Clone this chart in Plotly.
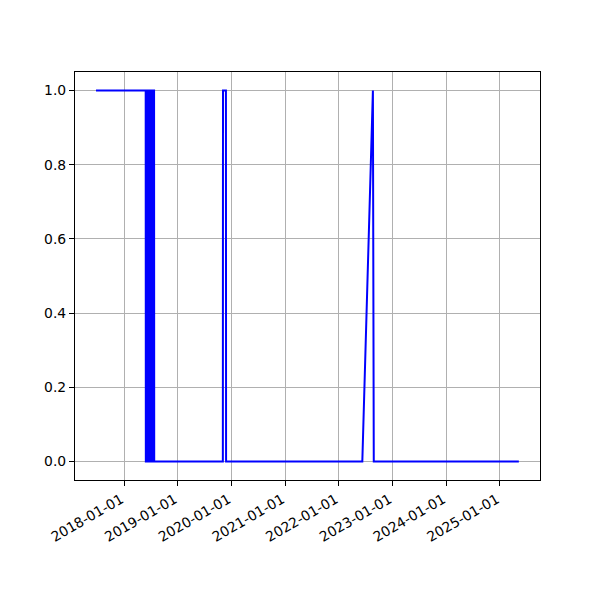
import plotly.graph_objects as go

dates = [
    "2017-06-24", "2018-05-28", "2018-05-29", "2018-06-01", "2018-06-02",
    "2018-06-05", "2018-06-06", "2018-06-09", "2018-06-10", "2018-06-13",
    "2018-06-14", "2018-06-17", "2018-06-18", "2018-06-21", "2018-06-22",
    "2018-06-25", "2018-06-26", "2018-06-29", "2018-06-30", "2018-07-03",
    "2018-07-04", "2018-07-07", "2018-07-08", "2018-07-11", "2018-07-12",
    "2018-07-15", "2018-07-16", "2018-07-19", "2018-07-20", "2018-07-24",
    "2018-07-25", "2018-07-30", "2018-07-31",
    "2019-11-04", "2019-11-05", "2019-11-25", "2019-11-26",
    "2022-06-10", "2022-08-21", "2022-08-27", "2025-05-10",
]
values = [
    1, 1, 0, 0, 1,
    1, 0, 0, 1, 1,
    0, 0, 1, 1, 0,
    0, 1, 1, 0, 0,
    1, 1, 0, 0, 1,
    1, 0, 0, 1, 1,
    0, 0, 0,
    0, 1, 1, 0,
    0, 1, 0, 0,
]

x_ticks = ["2018-01-01", "2019-01-01", "2020-01-01", "2021-01-01",
           "2022-01-01", "2023-01-01", "2024-01-01", "2025-01-01"]
y_ticks = [0.0, 0.2, 0.4, 0.6, 0.8, 1.0]

fig = go.Figure(go.Scatter(x=dates, y=values, mode="lines",
                           line=dict(color="blue", width=2)))

fig.update_layout(
    width=592, height=592,
    margin=dict(l=67, r=60, t=64, b=120),
    plot_bgcolor="white", paper_bgcolor="white",
    font=dict(family="DejaVu Sans", size=13.9, color="black"),
    showlegend=False,
)
fig.update_xaxes(
    type="date", range=["2017-02-01", "2025-10-01"],
    tickvals=x_ticks, ticktext=x_ticks, tickangle=-30, ticklabelshift=-3,
    showgrid=True, gridcolor="#b0b0b0", gridwidth=1.1,
    showline=True, linecolor="black", linewidth=1.1, mirror=True,
    ticks="outside", ticklen=5, tickcolor="black", tickwidth=1.1,
    zeroline=False, automargin=False,
)
fig.update_yaxes(
    range=[-0.05, 1.05], tickvals=y_ticks, tickformat=".1f",
    showgrid=True, gridcolor="#b0b0b0", gridwidth=1.1,
    showline=True, linecolor="black", linewidth=1.1, mirror=True,
    ticks="outside", ticklen=5, tickcolor="black", tickwidth=1.1,
    zeroline=False, automargin=False,
)

fig.write_html("out.html")
